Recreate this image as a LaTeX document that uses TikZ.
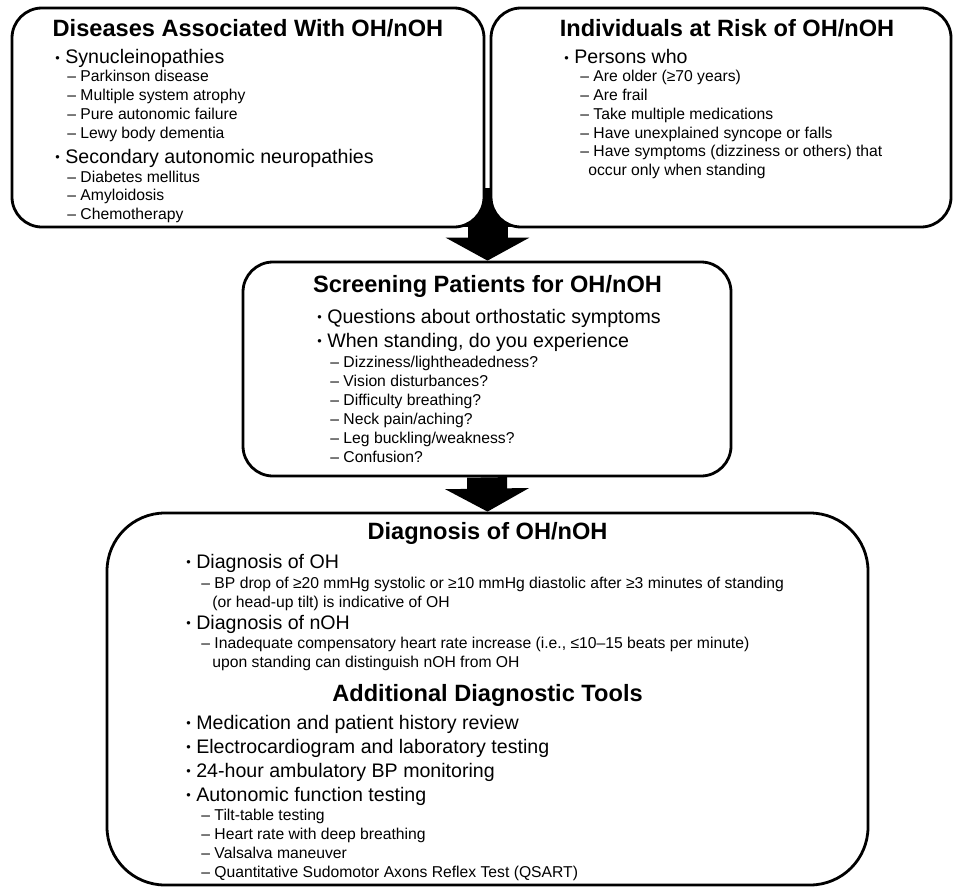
\documentclass[tikz,border=0pt]{standalone}
\usepackage{fontspec}
\setmainfont{Liberation Sans}
\usetikzlibrary{fit,backgrounds,arrows.meta}

\newcommand{\bul}{\raisebox{0.1em}{\scalebox{0.65}{•}}\ }

\tikzset{
	panel/.style={draw, line width=1.4pt, fill=white, rounded corners=15pt, inner sep=0pt},
	bigpanel/.style={panel, rounded corners=29pt},
	blockarrow/.style={line width=20pt, -{Triangle[length=11.5pt, width=41.5pt]}},
	ttl/.style={font=\fontsize{11.8}{14}\selectfont\bfseries, anchor=base, inner sep=0pt},
	lone/.style={font=\fontsize{9.8}{12}\selectfont, anchor=base west, inner sep=0pt},
	ltwo/.style={font=\fontsize{7.85}{9.4}\selectfont, anchor=base west, inner sep=0pt}
}

\begin{document}
\begin{tikzpicture}[x=0.5pt, y=-0.5pt]
	\useasboundingbox (0,0) rectangle (956,888);

	% boxes
	\node[panel, fit={(12,8) (484,227)}] (dis) {};
	\node[panel, fit={(491,8) (951,227)}] (risk) {};
	\node[panel, fit={(243,262) (731,476)}] (scr) {};
	\node[bigpanel, fit={(107,513) (868,885)}] (diag) {};

	% block arrows behind the boxes
	\coordinate (gap) at (487.5,195);
	\begin{scope}[on background layer]
		\fill (440,188) rectangle (536,227);
		\draw[blockarrow] (gap) -- (gap |- scr.north);
		\draw[blockarrow] (scr.south) -- (diag.north);
	\end{scope}

	% diseases
	\node[ttl] (dis-t) at (248,37) {Diseases Associated With OH/nOH};
	\node[lone] (dis-a) at (55,64) {\bul Synucleinopathies};
	\foreach \t [count=\i] in {Parkinson disease, Multiple system atrophy, Pure autonomic failure, Lewy body dementia}
		\node[ltwo] (dis-a\i) at (67,{82+18.7*(\i-1)}) {– \t};
	\node[lone] (dis-b) at (55,163) {\bul Secondary autonomic neuropathies};
	\foreach \t [count=\i] in {Diabetes mellitus, Amyloidosis, Chemotherapy}
		\node[ltwo] (dis-b\i) at (67,{182+18.7*(\i-1)}) {– \t};

	% individuals at risk
	\node[ttl] (risk-t) at (727,37) {Individuals at Risk of OH/nOH};
	\node[lone] (risk-a) at (564,64) {\bul Persons who};
	\foreach \t [count=\i] in {Are older (≥70 years), Are frail, Take multiple medications, Have unexplained syncope or falls, Have symptoms (dizziness or others) that}
		\node[ltwo] (risk-a\i) at (580,{82+18.7*(\i-1)}) {– \t};
	\node[ltwo] (risk-a6) at (588,175.5) {occur only when standing};

	% screening
	\node[ttl] (scr-t) at (487.5,292) {Screening Patients for OH/nOH};
	\node[lone] (scr-a) at (317,323) {\bul Questions about orthostatic symptoms};
	\node[lone] (scr-b) at (317,347) {\bul When standing, do you experience};
	\foreach \t [count=\i] in {Dizziness/lightheadedness?, Vision disturbances?, Difficulty breathing?, Neck pain/aching?, Leg buckling/weakness?, Confusion?}
		\node[ltwo] (scr-b\i) at (330,{367+19*(\i-1)}) {– \t};

	% diagnosis
	\node[ttl] (diag-t) at (487.5,539) {Diagnosis of OH/nOH};
	\node[lone] (diag-a) at (186,568) {\bul Diagnosis of OH};
	\node[ltwo] (diag-a1) at (201,588) {– BP drop of ≥20 mmHg systolic or ≥10 mmHg diastolic after ≥3 minutes of standing};
	\node[ltwo] (diag-a2) at (212,607) {(or head-up tilt) is indicative of OH};
	\node[lone] (diag-b) at (186,629) {\bul Diagnosis of nOH};
	\node[ltwo] (diag-b1) at (201,648) {– Inadequate compensatory heart rate increase (i.e., ≤10–15 beats per minute)};
	\node[ltwo] (diag-b2) at (212,667) {upon standing can distinguish nOH from OH};

	% additional tools
	\node[ttl] (tool-t) at (487.5,701) {Additional Diagnostic Tools};
	\foreach \t [count=\i] in {Medication and patient history review, Electrocardiogram and laboratory testing, 24-hour ambulatory BP monitoring, Autonomic function testing}
		\node[lone] (tool-\i) at (186,{729+24*(\i-1)}) {\bul \t};
	\foreach \t [count=\i] in {Tilt-table testing, Heart rate with deep breathing, Valsalva maneuver, Quantitative Sudomotor Axons Reflex Test (QSART)}
		\node[ltwo] (tool-a\i) at (201,{820+19*(\i-1)}) {– \t};
\end{tikzpicture}
\end{document}
